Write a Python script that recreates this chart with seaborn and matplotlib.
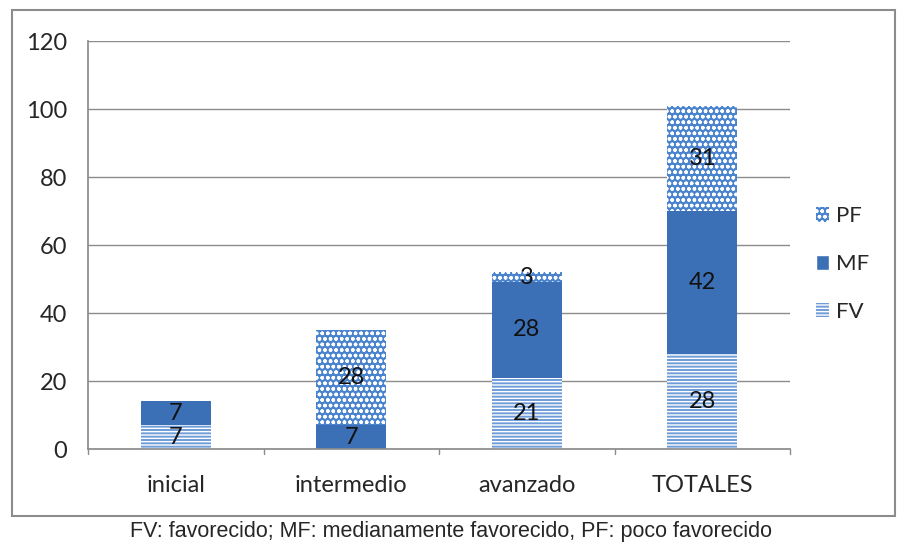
import matplotlib
matplotlib.use("Agg")
import matplotlib.pyplot as plt
import seaborn as sns
import numpy as np
from matplotlib.patches import Rectangle, Patch

categories = ["inicial", "intermedio", "avanzado", "TOTALES"]
fv = [7, 0, 21, 28]
mf = [7, 7, 28, 42]
pf = [0, 28, 3, 31]
yticks = [0, 20, 40, 60, 80, 100, 120]

sns.set_theme(style="white")
plt.rcParams["font.family"] = ["Lato", "DejaVu Sans"]
plt.rcParams["hatch.linewidth"] = 1.0

fig = plt.figure(figsize=(8.97, 5.44), dpi=100)
ax = fig.add_axes([88/897, 1-449/544, (790-88)/897, (449-41)/544])

c_fv = "#6F9DD8"
c_mf = "#3C70B6"
c_pf = "#4A84CE"

fv_a = np.array(fv); mf_a = np.array(mf); pf_a = np.array(pf)
layers = [("FV", fv_a, np.zeros(4), c_fv, "-----"),
          ("MF", mf_a, fv_a, c_mf, None),
          ("PF", pf_a, fv_a + mf_a, c_pf, "ooo")]

for name, vals, bottom, col, hatch in layers:
    n_before = len(ax.patches)
    sns.barplot(x=categories, y=vals, bottom=bottom, color=col, width=0.4,
                ax=ax, linewidth=0, saturation=1)
    for p, v, b in zip(ax.patches[n_before:], vals, bottom):
        p.set_facecolor(col)
        if hatch:
            p.set_hatch(hatch)
            p.set_edgecolor("white")
            p.set_linewidth(0)
        if v > 0:
            ax.text(p.get_x() + p.get_width()/2, b + v/2, str(v),
                    ha="center", va="center", fontsize=17, color="#111111")

ax.set_ylim(0, 120)
ax.set_xlim(-0.5, 3.5)
ax.set_yticks(yticks)
ax.set_yticklabels([str(t) for t in yticks], fontsize=17)
ax.tick_params(axis="x", labelsize=17, length=0, pad=19)
ax.tick_params(axis="y", length=4, width=1, color="#8C8C8C", pad=11)
ax.yaxis.grid(True, color="#8C8C8C", linewidth=1)
ax.set_axisbelow(True)
for s in ["top", "right"]:
    ax.spines[s].set_visible(False)
ax.spines["left"].set_color("#8C8C8C")
ax.spines["bottom"].set_color("#8C8C8C")
for xb in [-0.5, 0.5, 1.5, 2.5, 3.5]:
    ax.plot([xb, xb], [0, -1.6], color="#8C8C8C", lw=1, clip_on=False)

handles = [Patch(facecolor=c_pf, hatch="ooo", edgecolor="white", linewidth=0, label="PF"),
           Patch(facecolor=c_mf, label="MF"),
           Patch(facecolor=c_fv, hatch="-----", edgecolor="white", linewidth=0, label="FV")]
leg = fig.legend(handles=handles, loc="center left", bbox_to_anchor=(796/897, 1-264/544),
                 frameon=False, fontsize=16, handlelength=0.6, handleheight=0.65,
                 labelspacing=1.25, handletextpad=0.3)

fig.patches.append(Rectangle((12/897, 1-516/544), (895-12)/897, (516-10)/544,
                             transform=fig.transFigure, fill=False,
                             edgecolor="#8C8C8C", linewidth=1.5))
fig.text(451/897, 1-532/544,
         "FV: favorecido; MF: medianamente favorecido, PF: poco favorecido",
         ha="center", va="center", fontsize=15.5, family=["Liberation Sans"])

fig.savefig("out.png", dpi=100)
